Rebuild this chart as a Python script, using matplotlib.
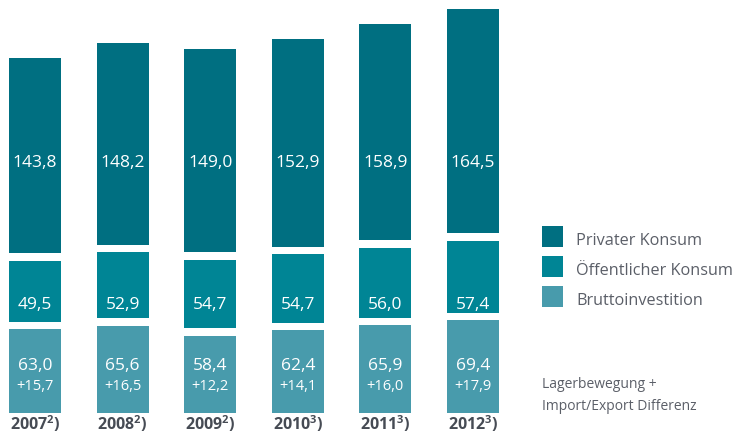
import matplotlib
matplotlib.use("Agg")
import matplotlib.pyplot as plt
from matplotlib.patches import Rectangle

plt.rcParams['font.family'] = ['Open Sans', 'DejaVu Sans']
plt.rcParams['mathtext.fontset'] = 'custom'
plt.rcParams['mathtext.rm'] = 'Open Sans'
plt.rcParams['mathtext.bf'] = 'Open Sans:bold'

years = ["2007", "2008", "2009", "2010", "2011", "2012"]
footnotes = ["2", "2", "2", "3", "3", "3"]
privater = [143.8, 148.2, 149.0, 152.9, 158.9, 164.5]
oeffentlicher = [49.5, 52.9, 54.7, 54.7, 56.0, 57.4]
brutto = [63.0, 65.6, 58.4, 62.4, 65.9, 69.4]
lager = [15.7, 16.5, 12.2, 14.1, 16.0, 17.9]

series_names = ["Privater Konsum", "Öffentlicher Konsum", "Bruttoinvestition"]
c_priv = "#006F81"
c_oeff = "#008595"
c_brut = "#489BAC"
txt_gray = "#5b5f68"
year_col = "#464b54"

W, H = 734, 434
fig = plt.figure(figsize=(W/100, H/100), dpi=100)
ax = fig.add_axes([0, 21/H, 520/W, 413/H])
scale = 1.387  # px per unit
ax.set_ylim(0, 413/scale)
ax.set_xlim(-35/87.6, (520-35)/87.6)
ax.axis('off')

gap = 7.3/scale
width = 52/87.6
x = list(range(len(years)))
fmt = lambda v: f"{v:.1f}".replace('.', ',')
for i in x:
    b, o, p = brutto[i], oeffentlicher[i], privater[i]
    ax.bar(i, b - gap/2, bottom=0, width=width, color=c_brut, linewidth=0)
    ax.bar(i, o - gap, bottom=b + gap/2, width=width, color=c_oeff, linewidth=0)
    ax.bar(i, p - gap/2, bottom=b + o + gap/2, width=width, color=c_priv, linewidth=0)
    ax.text(i, (413-163)/scale, fmt(p), ha='center', va='center', color='white', fontsize=12.5)
    ax.text(i, (413-305)/scale, fmt(o), ha='center', va='center', color='white', fontsize=12.5)
    ax.text(i, (413-366)/scale, fmt(b), ha='center', va='center', color='white', fontsize=12.5)
    ax.text(i, (413-387)/scale, "+" + fmt(lager[i]), ha='center', va='center', color='white', fontsize=10.5)
    label = years[i] + r"$^{\mathbf{" + footnotes[i] + r"}}$)"
    ax.text(i, -(430-413)/scale, label, ha='center', va='baseline', color=year_col,
            fontsize=11.5, fontweight='bold', clip_on=False)

# legend
colors = [c_priv, c_oeff, c_brut]
tops = [226, 256, 286]
for name, c, t in zip(series_names, colors, tops):
    fig.patches.append(Rectangle((542/W, 1 - (t+21)/H), 21/W, 21/H, transform=fig.transFigure,
                                 facecolor=c, edgecolor='none'))
    fig.text(576/W, 1 - (t+15)/H, name, ha='left', va='center', color=txt_gray, fontsize=11.7)

fig.text(542/W, 1 - 384/H, "Lagerbewegung +", ha='left', va='center', color=txt_gray, fontsize=10)
fig.text(542/W, 1 - 407/H, "Import/Export Differenz", ha='left', va='center', color=txt_gray, fontsize=10)

fig.savefig("out.png", dpi=100)
